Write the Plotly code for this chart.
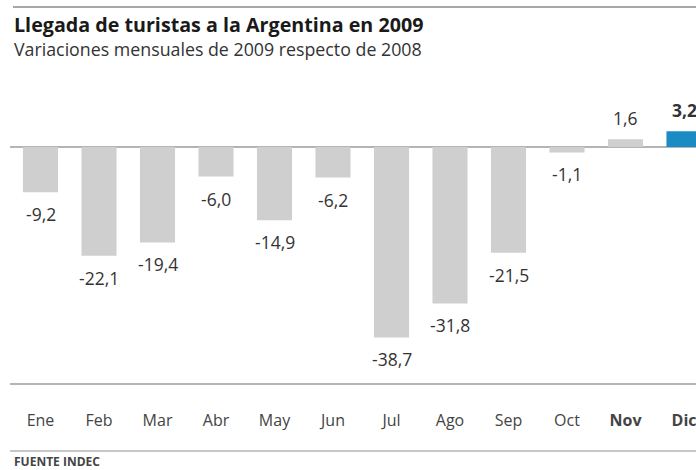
import plotly.graph_objects as go

months = ["Ene", "Feb", "Mar", "Abr", "May", "Jun", "Jul", "Ago", "Sep", "Oct", "Nov", "Dic"]
values = [-9.2, -22.1, -19.4, -6.0, -14.9, -6.2, -38.7, -31.8, -21.5, -1.1, 1.6, 3.2]
bold_months = ["Nov", "Dic"]
highlight_month = "Dic"

title = "Llegada de turistas a la Argentina en 2009"
subtitle = "Variaciones mensuales de 2009 respecto de 2008"
source = "FUENTE INDEC"

W, H = 696, 470
ML, MR, MT, MB = 10, 0, 90, 87
PW, PH = W - ML - MR, H - MT - MB

def px_x(px):
    return (px - ML) / PW

def px_y(py):
    return 1 - (py - MT) / PH

FONT = "Open Sans"
GRAY_BAR = "#cfcfcf"
BLUE = "#1b8bc3"
LINE = "#b4b4b4"
TXT = "#333333"

xs = list(range(len(months)))
colors = [BLUE if m == highlight_month else GRAY_BAR for m in months]
fmt = lambda v: f"{v:.1f}".replace(".", ",")

fig = go.Figure()
fig.add_trace(go.Bar(
    x=xs, y=values, width=0.6,
    marker=dict(color=colors, line=dict(width=0)),
    hoverinfo="skip",
))

annotations = []
for x, m, v in zip(xs, months, values):
    label = fmt(v)
    if m == highlight_month:
        label = f"<b>{label}</b>"
    annotations.append(dict(
        x=x, y=v, xref="x", yref="y", text=label, showarrow=False,
        yshift=21 if v > 0 else -22,
        font=dict(family=FONT, size=17.5, color=TXT),
        xanchor="center", yanchor="middle",
    ))

annotations += [
    dict(x=px_x(12), y=px_y(24), xref="paper", yref="paper", text=f"<b>{title}</b>",
         showarrow=False, xanchor="left", yanchor="middle",
         font=dict(family=FONT, size=19.7, color="#1a1a1a")),
    dict(x=px_x(12), y=px_y(49), xref="paper", yref="paper", text=subtitle,
         showarrow=False, xanchor="left", yanchor="middle",
         font=dict(family=FONT, size=17.8, color="#333333")),
    dict(x=px_x(12), y=px_y(461), xref="paper", yref="paper", text=f"<b>{source}</b>",
         showarrow=False, xanchor="left", yanchor="middle",
         font=dict(family=FONT, size=12, color="#444444")),
]

shapes = [
    dict(type="line", xref="paper", yref="paper", x0=px_x(13), x1=1,
         y0=px_y(7), y1=px_y(7), line=dict(color="#a8a8a8", width=2)),
    dict(type="line", xref="paper", yref="paper", x0=0, x1=1,
         y0=px_y(451), y1=px_y(451), line=dict(color=LINE, width=1.5)),
]

unit = 58.5
x0 = -(40.5 - ML) / unit
x1 = x0 + PW / unit
scale = 4.92
y_top = (147 - MT) / scale
y_bot = -(MT + PH - 147) / scale

ticktext = [f"<b>{m}</b>" if m in bold_months else m for m in months]

fig.update_layout(
    width=W, height=H,
    margin=dict(l=ML, r=MR, t=MT, b=MB),
    paper_bgcolor="white", plot_bgcolor="white",
    showlegend=False,
    annotations=annotations,
    shapes=shapes,
    xaxis=dict(
        range=[x0, x1], tickvals=xs, ticktext=ticktext,
        showgrid=False, zeroline=False,
        showline=True, linecolor=LINE, linewidth=2,
        ticks="outside", ticklen=22, tickcolor="rgba(0,0,0,0)",
        ticklabeloverflow="allow",
        tickfont=dict(family=FONT, size=16, color="#444444"),
        fixedrange=True,
    ),
    yaxis=dict(
        range=[y_bot, y_top], showgrid=False, showticklabels=False,
        zeroline=True, zerolinecolor=LINE, zerolinewidth=1.5,
        showline=False, fixedrange=True,
    ),
)

fig.write_html(
    "out.html",
    config={"displayModeBar": False},
    post_script="document.body.style.margin='0';document.body.style.overflow='hidden';",
)
